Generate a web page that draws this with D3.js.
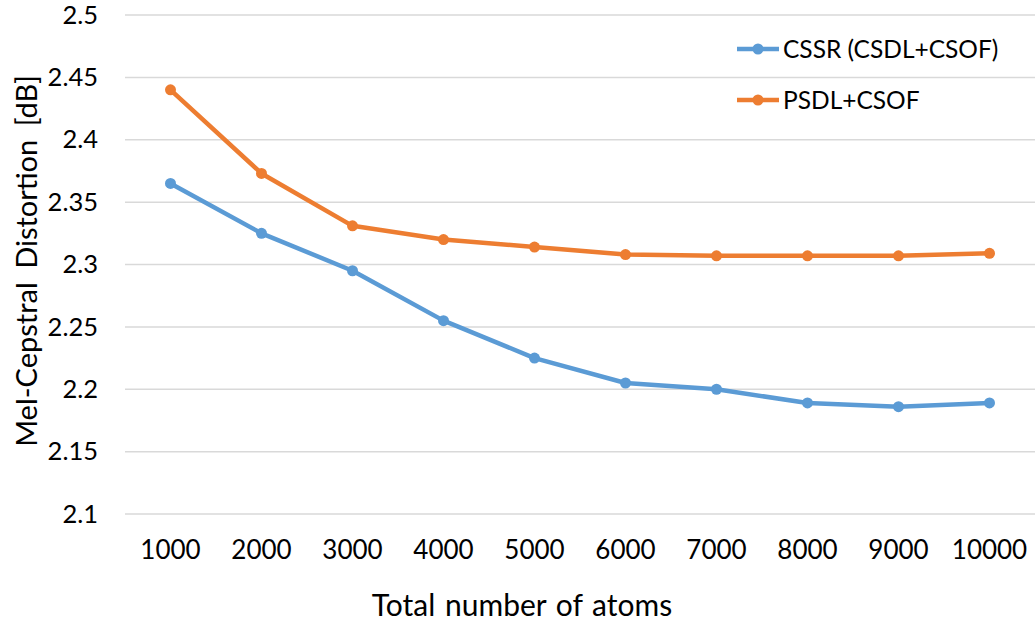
<!DOCTYPE html>
<html>
<head>
<meta charset="utf-8">
<script src="https://cdn.jsdelivr.net/npm/d3@7"></script>
<style>
  body { margin: 0; background: #fff; }
  text { font-family: Lato, "Open Sans", sans-serif; fill: #000; }
</style>
</head>
<body>
<div id="chart-area"></div>
<script>
// chart data
var atoms = ['1000', '2000', '3000', '4000', '5000', '6000', '7000', '8000', '9000', '10000'];
var cssr = [2.365, 2.325, 2.295, 2.255, 2.225, 2.205, 2.200, 2.189, 2.186, 2.189];
var psdl = [2.440, 2.373, 2.331, 2.320, 2.314, 2.308, 2.307, 2.307, 2.307, 2.309];
var yTicks = [2.1, 2.15, 2.2, 2.25, 2.3, 2.35, 2.4, 2.45, 2.5];
var seriesNames = ['CSSR (CSDL+CSOF)', 'PSDL+CSOF'];
var colors = ['#5b9bd5', '#ed7d31'];

var margin = { top: 15, right: 1, bottom: 107, left: 125 },
  width = 1036 - margin.left - margin.right,
  height = 621 - margin.top - margin.bottom;

var svg = d3.select('#chart-area')
  .append('svg')
    .attr('width', 1036)
    .attr('height', 621);

var g = svg.append('g')
  .attr('transform', 'translate(' + margin.left + ', ' + margin.top + ')');

var xScale = d3.scaleBand()
  .domain(atoms)
  .range([0, width]);

var yScale = d3.scaleLinear()
  .domain([2.1, 2.5])
  .range([height, 0]);

// horizontal gridlines
g.selectAll('.grid')
  .data(yTicks)
  .enter()
  .append('line')
    .attr('class', 'grid')
    .attr('x1', 0)
    .attr('x2', width)
    .attr('y1', d => yScale(d))
    .attr('y2', d => yScale(d))
    .attr('stroke', '#d9d9d9')
    .attr('stroke-width', 1.5);

// y axis labels
var yAxis = g.append('g')
  .call(d3.axisLeft(yScale).tickValues(yTicks).tickFormat(d => String(+d.toFixed(2))).tickSize(0).tickPadding(27));
yAxis.select('.domain').remove();
yAxis.selectAll('text')
  .attr('font-size', '25.5px')
  .style('font-family', 'Lato, "Open Sans", sans-serif')
  .attr('fill', '#000');

// x axis labels
var xAxis = g.append('g')
  .attr('transform', 'translate(0, ' + height + ')')
  .call(d3.axisBottom(xScale).tickSize(0).tickPadding(27));
xAxis.select('.domain').remove();
xAxis.selectAll('text')
  .attr('font-size', '26px')
  .style('font-family', 'Lato, "Open Sans", sans-serif')
  .attr('fill', '#000');

// axis titles
svg.append('text')
  .attr('x', 522)
  .attr('y', 616)
  .attr('text-anchor', 'middle')
  .attr('font-size', '30px')
  .attr('word-spacing', '2px')
  .text('Total number of atoms');

svg.append('text')
  .attr('transform', 'translate(37, ' + 261 + ') rotate(-90)')
  .attr('text-anchor', 'middle')
  .attr('font-size', '29px')
  .attr('word-spacing', '6px')
  .text('Mel-Cepstral Distortion [dB]');

// series lines and markers
var seriesData = [cssr, psdl];
var line = d3.line()
  .x((d, i) => xScale(atoms[i]) + xScale.bandwidth() / 2)
  .y(d => yScale(d));

seriesData.forEach((values, s) => {
  g.append('path')
    .datum(values)
    .attr('fill', 'none')
    .attr('stroke', colors[s])
    .attr('stroke-width', 4.5)
    .attr('stroke-linejoin', 'round')
    .attr('d', line);

  g.selectAll('.dot' + s)
    .data(values)
    .enter()
    .append('circle')
      .attr('class', 'dot' + s)
      .attr('cx', (d, i) => xScale(atoms[i]) + xScale.bandwidth() / 2)
      .attr('cy', d => yScale(d))
      .attr('r', 5.5)
      .attr('fill', colors[s]);
});

// legend
var legend = svg.append('g')
  .attr('transform', 'translate(737, 49)');

seriesNames.forEach((name, i) => {
  var row = legend.append('g')
    .attr('transform', 'translate(0, ' + (i * 51) + ')');
  row.append('line')
    .attr('x1', 0).attr('x2', 42)
    .attr('stroke', colors[i])
    .attr('stroke-width', 4.5);
  row.append('circle')
    .attr('cx', 21)
    .attr('r', 5.5)
    .attr('fill', colors[i]);
  row.append('text')
    .attr('x', 46)
    .attr('dy', '0.35em')
    .attr('font-size', '24.5px')
    .text(name);
});
</script>
</body>
</html>
